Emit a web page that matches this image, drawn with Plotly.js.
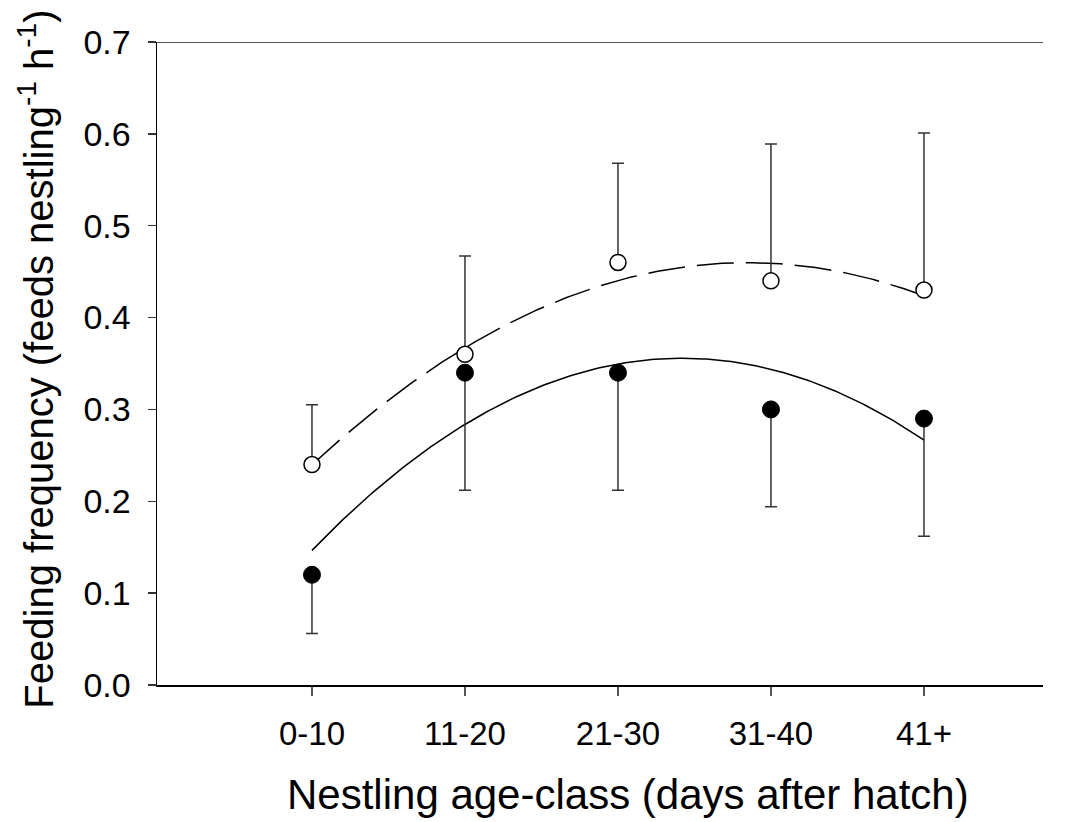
<!DOCTYPE html>
<html><head><meta charset="utf-8">
<script src="https://cdn.plot.ly/plotly-3.0.1.min.js"></script>
<style>html,body{margin:0;padding:0;background:#fff}</style>
</head><body>
<div id="chart" style="width:1070px;height:822px"></div>
<script>
const categories = ["0-10", "11-20", "21-30", "31-40", "41+"];
const positions = [1, 2, 3, 4, 5];
const yTicks = [0, 0.1, 0.2, 0.3, 0.4, 0.5, 0.6, 0.7];
const yTickLabels = ["0.0", "0.1", "0.2", "0.3", "0.4", "0.5", "0.6", "0.7"];
const openMeans = [0.24, 0.36, 0.46, 0.44, 0.43];
const openUpper = [0.305, 0.467, 0.568, 0.589, 0.601];
const filledMeans = [0.12, 0.34, 0.34, 0.30, 0.29];
const filledLower = [0.056, 0.212, 0.212, 0.194, 0.162];

// quadratic least-squares fit (as in the original figure)
function quadFit(xs, ys) {
  const n = xs.length;
  let S = [0,0,0,0,0], T = [0,0,0];
  for (let i = 0; i < n; i++) {
    let p = 1;
    for (let k = 0; k < 5; k++) { S[k] += p; if (k < 3) T[k] += p * ys[i]; p *= xs[i]; }
  }
  const A = [[S[0],S[1],S[2],T[0]],[S[1],S[2],S[3],T[1]],[S[2],S[3],S[4],T[2]]];
  for (let i = 0; i < 3; i++) {
    for (let j = i+1; j < 3; j++) {
      const f = A[j][i] / A[i][i];
      for (let k = i; k < 4; k++) A[j][k] -= f * A[i][k];
    }
  }
  const c = [0,0,0];
  for (let i = 2; i >= 0; i--) {
    let s = A[i][3];
    for (let k = i+1; k < 3; k++) s -= A[i][k] * c[k];
    c[i] = s / A[i][i];
  }
  return x => c[0] + c[1]*x + c[2]*x*x;
}
function curve(ys) {
  const f = quadFit(positions, ys);
  const xs = [], yv = [];
  const x0 = positions[0], x1 = positions[positions.length-1];
  for (let i = 0; i <= 200; i++) { const x = x0 + (x1-x0)*i/200; xs.push(x); yv.push(f(x)); }
  return {xs, yv};
}
const cOpen = curve(openMeans), cFilled = curve(filledMeans);

const traces = [
  {x: cFilled.xs, y: cFilled.yv, mode: 'lines', line: {color: '#000', width: 1.5}, hoverinfo: 'skip'},
  {x: cOpen.xs, y: cOpen.yv, mode: 'lines', line: {color: '#000', width: 1.5, dash: '37px,12px'}, hoverinfo: 'skip'},
  {x: positions, y: filledMeans, mode: 'markers',
   marker: {symbol: 'circle', size: 17, color: '#000', line: {color: '#000', width: 1}},
   error_y: {type: 'data', symmetric: false, array: filledMeans.map(() => 0),
             arrayminus: filledMeans.map((m, i) => m - filledLower[i]),
             color: '#333', thickness: 1.5, width: 6}},
  {x: positions, y: openMeans, mode: 'markers',
   marker: {symbol: 'circle', size: 16, color: '#fff', line: {color: '#000', width: 1.5}},
   error_y: {type: 'data', symmetric: false, arrayminus: openMeans.map(() => 0),
             array: openMeans.map((m, i) => openUpper[i] - m),
             color: '#333', thickness: 1.5, width: 6}}
];

const layout = {
  width: 1070, height: 822,
  margin: {l: 157, r: 27, t: 42, b: 137},
  paper_bgcolor: '#fff', plot_bgcolor: '#fff',
  showlegend: false,
  font: {family: '"Liberation Sans", Arial, sans-serif', color: '#000'},
  xaxis: {
    range: [-0.013, 5.778], tickvals: positions, ticktext: categories,
    showgrid: false, zeroline: false, showline: true, linecolor: '#000', linewidth: 1.5,
    ticks: 'outside', ticklen: 9, tickwidth: 1.5, tickcolor: '#555',
    tickfont: {size: 33}, ticklabelstandoff: 10
  },
  yaxis: {
    range: [0, 0.7], tickvals: yTicks, ticktext: yTickLabels,
    showgrid: false, zeroline: false, showline: true, linecolor: '#000', linewidth: 1.5,
    ticks: 'outside', ticklen: 8, tickwidth: 1.5, tickcolor: '#333',
    tickfont: {size: 34}, ticklabelstandoff: 10
  },
  annotations: [
    {text: 'Nestling age-class (days after hatch)', xref: 'paper', yref: 'paper',
     x: (628 - 157) / 886, y: 0, yshift: -109, xanchor: 'center', yanchor: 'middle',
     showarrow: false, font: {size: 42}},
    {text: 'Feeding frequency (feeds nestling<sup>-1</sup> h<sup>-1</sup>)', xref: 'paper', yref: 'paper',
     x: 0, xshift: -121, y: 0.506, xanchor: 'center', yanchor: 'middle', textangle: -90,
     showarrow: false, font: {size: 40}}
  ],
  shapes: [
    {type: 'line', xref: 'paper', yref: 'y', x0: 0, x1: 1, y0: 0.7, y1: 0.7,
     line: {color: '#555', width: 2}}
  ]
};
Plotly.newPlot('chart', traces, layout, {staticPlot: true, displayModeBar: false});
</script>
</body></html>
